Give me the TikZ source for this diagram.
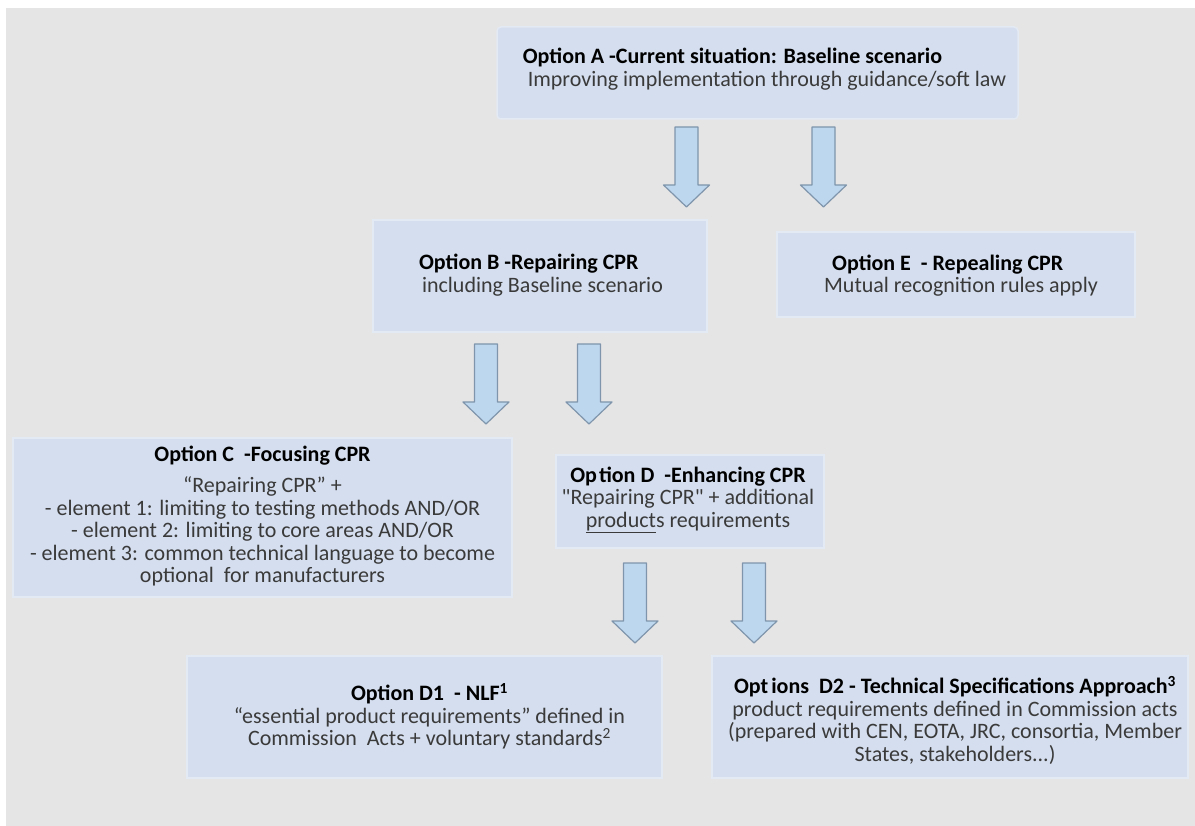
\documentclass[tikz,border=0pt]{standalone}
\usepackage{fontspec}
\setmainfont{Carlito}[Ligatures=TeXOff]
\usepackage{tikz}
\definecolor{bggray}{HTML}{E5E5E5}
\definecolor{boxblue}{HTML}{D4DEEE}
\definecolor{boxedge}{HTML}{E4EAF3}
\definecolor{arrblue}{HTML}{BDD7EE}
\definecolor{arredge}{HTML}{7F95AB}
\definecolor{txtgray}{HTML}{3A3A3A}
\newcommand{\opttitle}[1]{{\color{black}\bfseries #1}}
\tikzset{
  optbox/.style = {rectangle, fill=boxblue, draw=boxedge,
    line width=1.5pt, inner sep=0pt},
  opttxt/.style = {inner sep=0pt, align=center, text=txtgray,
    font=\fontsize{22}{22.5}\selectfont},
  darr/.pic = {
    \draw[fill=arrblue, draw=arredge, line width=1.2pt, line join=round]
      (-11.5,0) -- (11.5,0) -- (11.5,58) -- (23,58) -- (0,80)
      -- (-23,58) -- (-11.5,58) -- cycle;}
}

\begin{document}
\begin{tikzpicture}[x=1pt, y=-1pt]
\useasboundingbox (0,0) rectangle (1195,826);
\fill[bggray] (6,8) rectangle (1195,826);

% option boxes
\node[optbox, rounded corners=4pt, minimum width=521pt, minimum height=92pt] (A) at (757.5,73) {};
\node[optbox, minimum width=334pt, minimum height=112pt] (B) at (540,276) {};
\node[optbox, minimum width=358pt, minimum height=85pt] (E) at (956,274.5) {};
\node[optbox, minimum width=499pt, minimum height=159pt] (C) at (262.5,517.5) {};
\node[optbox, minimum width=268pt, minimum height=93pt] (D) at (690,501.5) {};
\node[optbox, minimum width=475pt, minimum height=122pt] (D1) at (424.5,717) {};
\node[optbox, minimum width=476pt, minimum height=122pt] (D2) at (950,717) {};

% texts
\node[opttxt, align=left] (At) at ([shift={(7,-4)}]A.center)
  {\opttitle{Option A -Current situation: Baseline scenario}\\
   \hspace*{5pt}Improving implementation through guidance/soft law};
\node[opttxt, align=left] (Bt) at ([shift={(1,-1)}]B.center)
  {\opttitle{Option B -Repairing CPR}\\
   \hspace*{3pt}including Baseline scenario};
\node[opttxt, align=left] (Et) at ([shift={(5,1)}]E.center)
  {\hspace*{8pt}\opttitle{Option E\ \ - Repealing CPR}\\
   Mutual recognition rules apply};
\node[opttxt] (Ct) at ([shift={(0,-1.5)}]C.center)
  {\opttitle{Option C\ \ -Focusing CPR}\\[9pt]
   “Repairing CPR” +\\
   - element 1: limiting to testing methods AND/OR\\
   - element 2: limiting to core areas AND/OR\\
   - element 3: common technical language to become\\
   optional\ \ for manufacturers};
\node[opttxt] (Dt) at ([shift={(-2,-1.5)}]D.center)
  {\opttitle{Op\kern2pt tion D\ \ -Enhancing CPR}\\
   "Repairing CPR" + additional\\
   \underline{product}s requirements};
\node[opttxt] (D1t) at ([shift={(5,-0.5)}]D1.center)
  {\opttitle{Option D1\ \ - NLF\textsuperscript{1}}\\
   “essential product requirements” defined in\\
   Commission\ \ Acts + voluntary standards\textsuperscript{2}};
\node[opttxt] (D2t) at ([shift={(5,3)}]D2.center)
  {\opttitle{Opt\kern3pt ions\ \ D2 - Technical Specifications Approach\textsuperscript{3}}\\
   product requirements defined in Commission acts\\
   (prepared with CEN, EOTA, JRC, consortia, Member\\
   States, stakeholders...)};

% block arrows
\pic at (686.5,127) {darr};
\pic at (823.5,127) {darr};
\pic at (486,344) {darr};
\pic at (589,344) {darr};
\pic at (635,563) {darr};
\pic at (754,563) {darr};
\end{tikzpicture}
\end{document}
